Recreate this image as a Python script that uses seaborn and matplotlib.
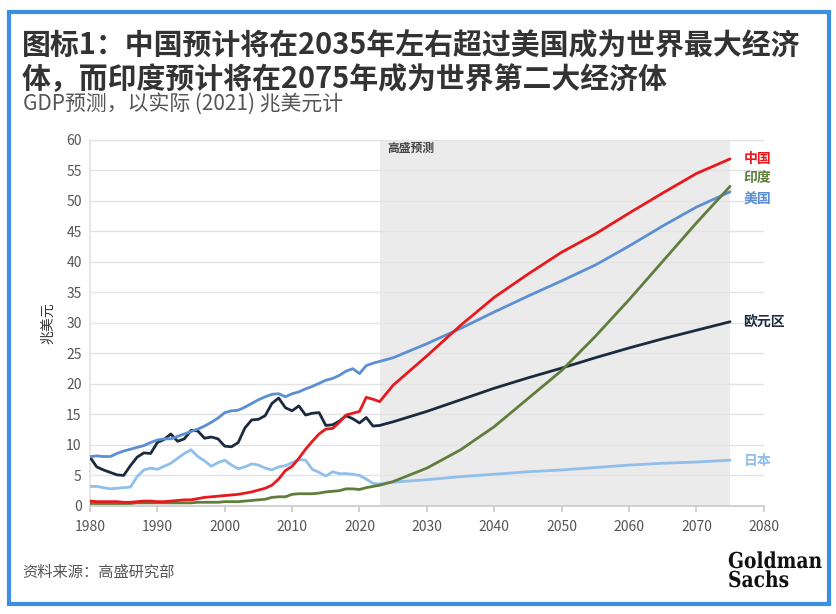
import matplotlib
matplotlib.use("Agg")
import matplotlib.pyplot as plt
from matplotlib.patches import Rectangle, PathPatch
from matplotlib.textpath import TextPath
from matplotlib.font_manager import FontProperties
from matplotlib.transforms import Affine2D
import pandas as pd
import seaborn as sns

# ---- data (trillion USD, real 2021) ----
hist_years = list(range(1980, 2024))
fcst_years = [2025, 2030, 2035, 2040, 2045, 2050, 2055, 2060, 2065, 2070, 2075]

china_hist = [0.8, 0.7, 0.7, 0.7, 0.7, 0.6, 0.6, 0.7, 0.8, 0.8,
              0.7, 0.7, 0.8, 0.9, 1.0, 1.0, 1.2, 1.4, 1.5, 1.6,
              1.7, 1.8, 1.9, 2.1, 2.3, 2.6, 2.9, 3.4, 4.4, 5.8,
              6.5, 7.8, 9.3, 10.6, 11.8, 12.6, 12.7, 13.7, 14.9, 15.2,
              15.5, 17.8, 17.5, 17.1]
china_fcst = [19.8, 24.6, 29.6, 34.2, 38.0, 41.6, 44.6, 48.0, 51.3, 54.5, 56.9]

india_hist = [0.4, 0.4, 0.4, 0.4, 0.4, 0.4, 0.4, 0.5, 0.5, 0.5,
              0.5, 0.5, 0.5, 0.5, 0.5, 0.5, 0.6, 0.6, 0.6, 0.6,
              0.7, 0.7, 0.7, 0.8, 0.9, 1.0, 1.1, 1.4, 1.5, 1.5,
              1.9, 2.0, 2.0, 2.0, 2.1, 2.3, 2.4, 2.5, 2.8, 2.8,
              2.7, 3.0, 3.2, 3.4]
india_fcst = [4.0, 6.2, 9.2, 13.0, 17.6, 22.2, 27.8, 33.8, 40.1, 46.4, 52.4]

us_hist = [8.1, 8.2, 8.1, 8.1, 8.6, 9.0, 9.3, 9.6, 9.9, 10.4,
           10.8, 11.0, 11.0, 11.4, 11.8, 12.2, 12.6, 13.1, 13.7, 14.4,
           15.3, 15.6, 15.7, 16.2, 16.8, 17.4, 17.9, 18.3, 18.4, 17.9,
           18.4, 18.7, 19.2, 19.6, 20.1, 20.6, 20.9, 21.4, 22.1, 22.5,
           21.7, 23.0, 23.4, 23.7]
us_fcst = [24.3, 26.6, 29.1, 31.8, 34.4, 36.9, 39.5, 42.6, 45.9, 49.0, 51.5]

ez_hist = [8.0, 6.4, 5.9, 5.5, 5.1, 5.0, 6.6, 8.0, 8.7, 8.6,
           10.4, 10.9, 11.8, 10.6, 11.0, 12.4, 12.3, 11.1, 11.3, 11.0,
           9.8, 9.7, 10.4, 12.8, 14.1, 14.2, 14.8, 16.8, 17.7, 16.1,
           15.6, 16.4, 14.9, 15.2, 15.3, 13.2, 13.3, 13.9, 14.8, 14.3,
           13.6, 14.5, 13.1, 13.2]
ez_fcst = [13.8, 15.5, 17.4, 19.3, 21.0, 22.6, 24.3, 25.9, 27.4, 28.8, 30.2]

japan_hist = [3.2, 3.2, 3.0, 2.8, 2.9, 3.0, 3.1, 4.8, 5.9, 6.2,
              6.0, 6.5, 7.0, 7.8, 8.6, 9.2, 8.1, 7.4, 6.5, 7.1,
              7.5, 6.7, 6.1, 6.4, 6.9, 6.7, 6.2, 5.9, 6.4, 6.6,
              7.1, 7.6, 7.5, 6.0, 5.5, 4.9, 5.6, 5.3, 5.3, 5.2,
              5.0, 4.4, 3.7, 3.6]
japan_fcst = [3.9, 4.3, 4.8, 5.2, 5.6, 5.9, 6.3, 6.7, 7.0, 7.2, 7.5]

countries = ["日本", "欧元区", "美国", "印度", "中国"]
colors = {"中国": "#e8191e", "印度": "#5f7d3b", "美国": "#5b8fd2",
          "欧元区": "#1a2a3f", "日本": "#8fbfea"}
series = {"中国": (china_hist, china_fcst), "印度": (india_hist, india_fcst),
          "美国": (us_hist, us_fcst), "欧元区": (ez_hist, ez_fcst),
          "日本": (japan_hist, japan_fcst)}
end_label_y = {"中国": 56.9, "印度": 53.8, "美国": 50.3, "欧元区": 30.2, "日本": 7.4}

rows = []
for name in countries:
    h, f = series[name]
    for yr, v in zip(hist_years + fcst_years, h + f):
        rows.append({"year": yr, "gdp": v, "country": name})
df = pd.DataFrame(rows)

sns.set_theme(style="white")
plt.rcParams["font.family"] = ["Noto Sans CJK SC", "DejaVu Sans"]

W, H = 837, 614
fig = plt.figure(figsize=(W / 100, H / 100), dpi=100)
ax = fig.add_axes([0.1075, 0.176, 0.805, 0.596])

# forecast shading
ax.axvspan(2023, 2075, color="#ebebeb", zorder=0, lw=0)
ax.text(2024.2, 58.6, "高盛预测", fontsize=8.5, fontweight="bold",
        color="#444444", va="center", ha="left")

sns.lineplot(data=df, x="year", y="gdp", hue="country", hue_order=countries,
             palette=colors, linewidth=2.0, legend=False, ax=ax, zorder=3)

ax.set_xlim(1980, 2080)
ax.set_ylim(0, 60)
ax.set_xticks(range(1980, 2081, 10))
ax.set_yticks(range(0, 61, 5))
ax.yaxis.grid(True, color="#e3e3e3", linewidth=1.0)
ax.set_axisbelow(True)
ax.tick_params(axis="both", labelsize=10, colors="#555555", length=0, pad=6)
ax.tick_params(axis="x", length=4, color="#cccccc", bottom=True)
for side in ["top", "right"]:
    ax.spines[side].set_visible(False)
ax.spines["left"].set_color("#e3e3e3")
ax.spines["bottom"].set_color("#cccccc")
ax.set_xlabel("")
ax.set_ylabel("兆美元", fontsize=10, color="#333333", labelpad=8)

# end-of-line labels
for name in ["中国", "印度", "美国", "欧元区", "日本"]:
    ax.text(2077, end_label_y[name], name, color=colors[name], fontsize=10,
            fontweight="bold", va="center", ha="left", clip_on=False)

# titles
fig.text(0.026, 0.926, "图标1：中国预计将在2035年左右超过美国成为世界最大经济",
         fontsize=20.8, fontweight="bold", color="#333333", va="center")
fig.text(0.026, 0.871, "体，而印度预计将在2075年成为世界第二大经济体",
         fontsize=20.8, fontweight="bold", color="#333333", va="center")
fig.text(0.027, 0.831, "GDP预测，以实际 (2021) 兆美元计",
         fontsize=15, color="#555555", va="center")
fig.text(0.027, 0.068, "资料来源：高盛研究部", fontsize=11, color="#555555", va="center")

# Goldman Sachs logo: condensed bold serif drawn as paths (pixel coords)
logo_prop = FontProperties(family="DejaVu Serif", weight="bold")
for word, baseline in [("Goldman", 46), ("Sachs", 27)]:
    tp = TextPath((0, 0), word, size=22, prop=logo_prop)
    tr = Affine2D().scale(0.85, 1.0).translate(728, baseline) + \
        Affine2D().scale(1 / W, 1 / H) + fig.transFigure
    fig.patches.append(PathPatch(tp, transform=tr, facecolor="#111111",
                                 edgecolor="none"))

# blue frame
fig.patches.append(Rectangle((0.011, 0.016), 0.98, 0.965, transform=fig.transFigure,
                             fill=False, edgecolor="#3b8fe2", linewidth=3))

fig.savefig("out.png", dpi=100)
plt.close(fig)
